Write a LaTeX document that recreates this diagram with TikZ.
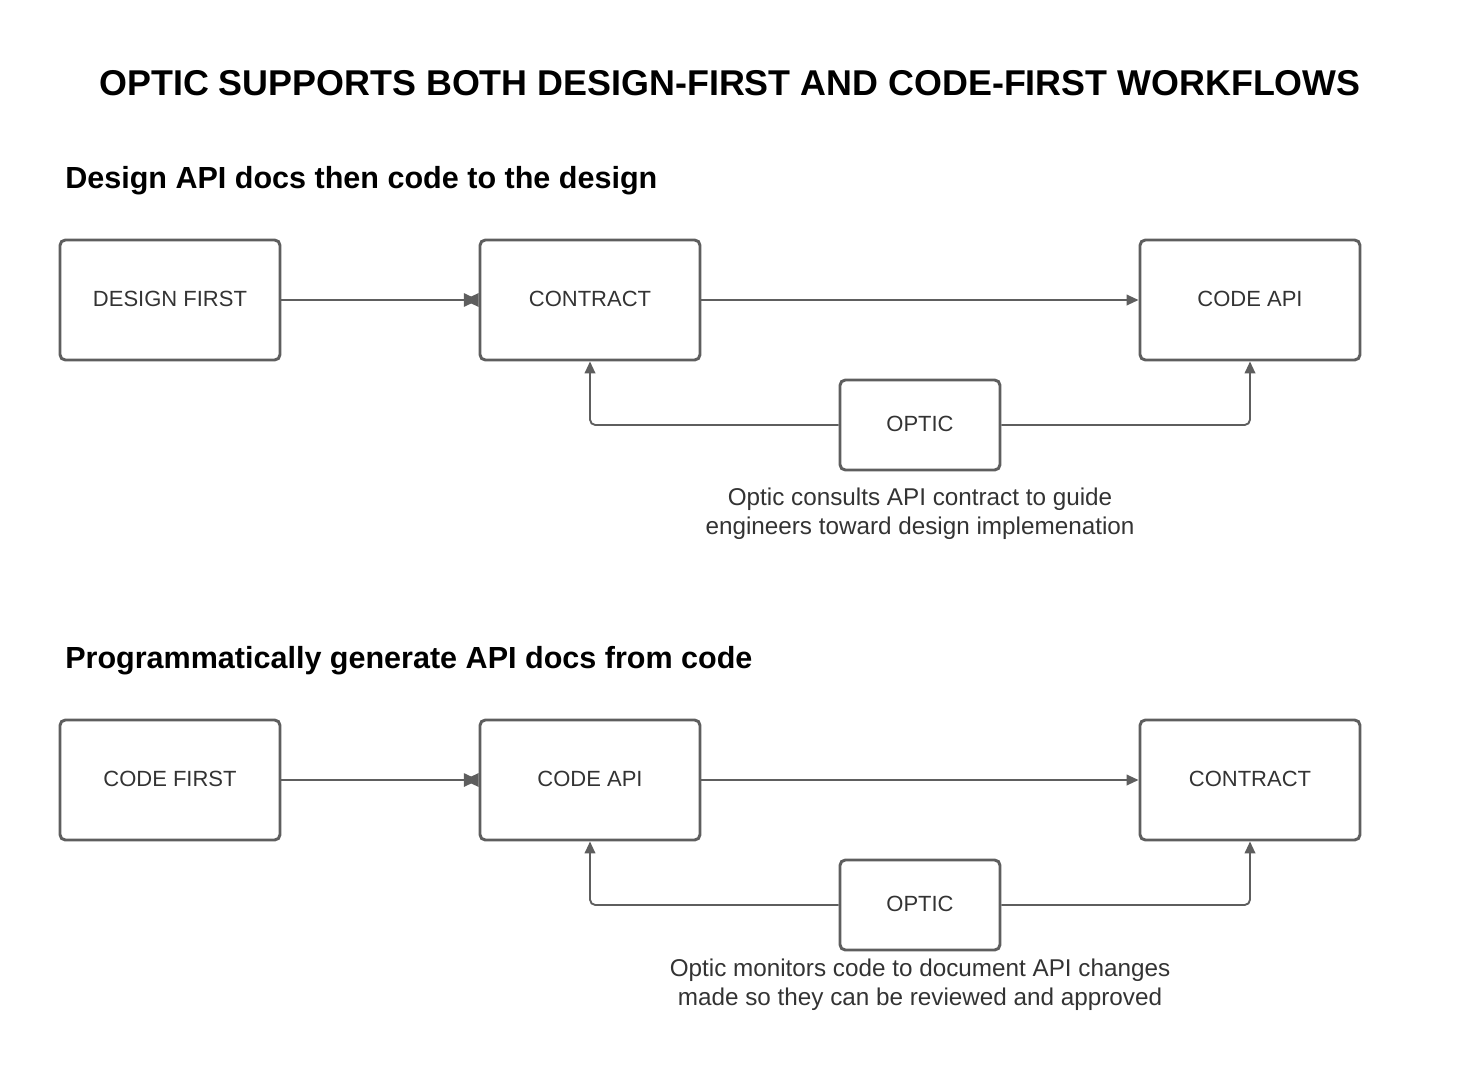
\documentclass[tikz,border=0pt]{standalone}
\usepackage{fontspec}
\setmainfont{Liberation Sans}
\usetikzlibrary{arrows.meta}
\definecolor{linegray}{HTML}{5E5E5E}
\definecolor{textgray}{HTML}{333333}
\tikzset{
  stagebox/.style={draw=linegray, line width=2.2pt, rounded corners=4pt,
    minimum width=165pt, minimum height=90pt, text=textgray,
    font=\fontsize{16.5}{20}\selectfont, inner sep=0pt, text depth=2pt},
  opticbox/.style={stagebox, minimum width=120pt, minimum height=67.5pt},
  flow/.style={draw=linegray, line width=1.4pt, -{Triangle[length=9pt,width=8pt]}},
  handoff/.style={draw=linegray, line width=1.4pt,
    -{Triangle[length=11pt,width=10pt,reversed,sep=-11pt]Triangle[length=11pt,width=10pt]}},
  loop/.style={flow, rounded corners=4pt},
  caption/.style={align=center, text=textgray, font=\fontsize{18.2}{21.6}\selectfont},
  heading/.style={anchor=west, inner sep=0pt, font=\bfseries\fontsize{22.9}{26}\selectfont},
}
\begin{document}
\begin{tikzpicture}[x=0.75pt, y=-0.75pt]
        \useasboundingbox (0,0) rectangle (1460,1078);
        \node[font=\bfseries\fontsize{26.9}{30}\selectfont] (title) at (730,83) {OPTIC SUPPORTS BOTH DESIGN-FIRST AND CODE-FIRST WORKFLOWS};
        
        % design first
        \node[heading] (designhead) at (65,181) {Design API docs then code to the design};
        \node[stagebox] (design) at (170,300) {DESIGN FIRST};
        \node[stagebox] (contract) at (590,300) {CONTRACT};
        \node[stagebox] (codeapi) at (1250,300) {CODE API};
        \node[opticbox] (optic) at (920,425) {OPTIC};
        \node[caption] (designnote) at (920,514) {Optic consults API contract to guide\\engineers toward design implemenation};
        
        \draw[handoff] (design) -- (contract);
        \draw[flow] (contract) -- (codeapi);
        \draw[loop] (optic.west) -| (contract.south);
        \draw[loop] (optic.east) -| (codeapi.south);
        
        % code first
        \node[heading] (codehead) at (65,661) {Programmatically generate API docs from code};
        \node[stagebox] (code) at (170,780) {CODE FIRST};
        \node[stagebox] (codeapi2) at (590,780) {CODE API};
        \node[stagebox] (contract2) at (1250,780) {CONTRACT};
        \node[opticbox] (optic2) at (920,905) {OPTIC};
        \node[caption] (codenote) at (920,985) {Optic monitors code to document API changes\\made so they can be reviewed and approved};
        
        \draw[handoff] (code) -- (codeapi2);
        \draw[flow] (codeapi2) -- (contract2);
        \draw[loop] (optic2.west) -| (codeapi2.south);
        \draw[loop] (optic2.east) -| (contract2.south);
\end{tikzpicture}
\end{document}
